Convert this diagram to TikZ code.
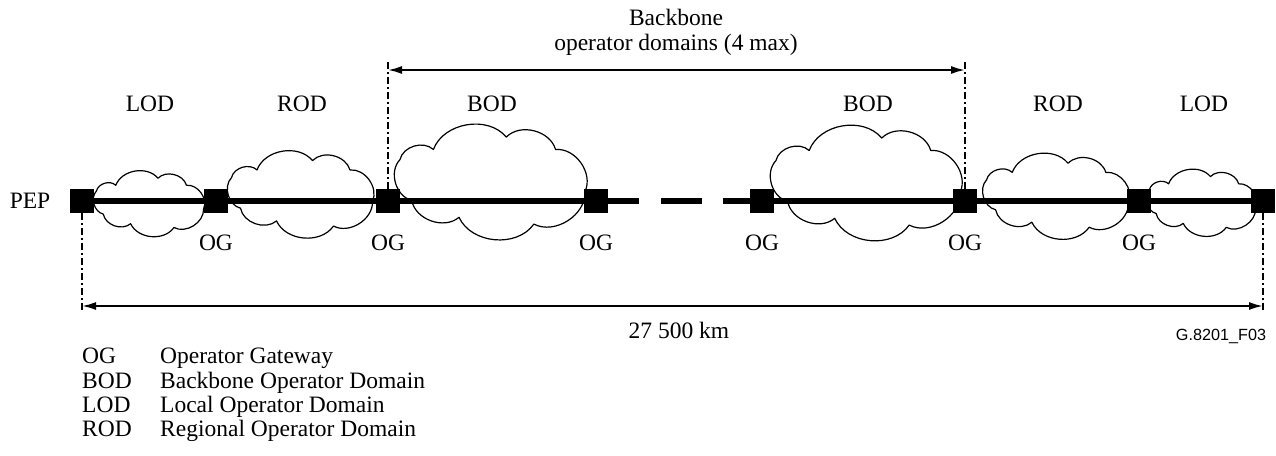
\documentclass[tikz,border=0pt]{standalone}
\usepackage{fontspec}
\setmainfont{Liberation Serif}
\newfontfamily\figsans{Liberation Sans}
\usetikzlibrary{arrows.meta}

% cloud between left, right, top and bottom edge
\newcommand{\domaincloud}[4]{%
  \draw[cloudline]
    ({#1+0.09*(#2-#1)},{#4-0.28*(#4-#3)}) to[bend left=60]
    ({#1+0.03*(#2-#1)},{#4-0.64*(#4-#3)}) to[bend left=60]
    ({#1+0.20*(#2-#1)},{#4-0.73*(#4-#3)}) to[bend left=60]
    ({#1+0.57*(#2-#1)},{#4-0.84*(#4-#3)}) to[bend left=60]
    ({#1+0.82*(#2-#1)},{#4-0.73*(#4-#3)}) to[bend left=60]
    ({#1+0.97*(#2-#1)},{#4-0.36*(#4-#3)}) to[bend left=60]
    ({#1+0.71*(#2-#1)},{#4-0.07*(#4-#3)}) to[bend left=60]
    ({#1+0.33*(#2-#1)},{#4-0.13*(#4-#3)}) to[bend left=60]
    ({#1+0.09*(#2-#1)},{#4-0.28*(#4-#3)}) -- cycle;}

\begin{document}
\begin{tikzpicture}[x=1pt, y=-1pt, >={Latex[length=14pt,width=8pt]},
  sqr/.style={rectangle, fill=black, minimum size=24pt, inner sep=0pt},
  lbl/.style={font=\fontsize{23.5}{25}\selectfont, inner sep=0pt},
  dashdot/.style={line width=1.3pt, dash pattern=on 7pt off 3pt on 2pt off 3pt},
  dim/.style={line width=2pt, <->},
  cloudline/.style={line width=1.2pt, line join=round},
  link/.style={line width=6pt}]

  \useasboundingbox (0,0) rectangle (1276,455);

  % Domains

  \domaincloud{93}{207}{168}{232}
  \domaincloud{227}{377}{147}{232}
  \domaincloud{394}{591}{119}{232}
  \domaincloud{770}{966}{120}{233}
  \domaincloud{982}{1133}{150}{233}
  \domaincloud{1146}{1259}{166}{232}

  \node[lbl] (lodL) at (150,104) {LOD};
  \node[lbl] (rodL) at (302,104) {ROD};
  \node[lbl] (bodL) at (492,104) {BOD};
  \node[lbl] (bodR) at (868,104) {BOD};
  \node[lbl] (rodR) at (1058,104) {ROD};
  \node[lbl] (lodR) at (1204,104) {LOD};

  % Gateways

  \node[sqr] (pepL) at (82,201) {};
  \node[sqr] (ogA) at (216,201) {};
  \node[sqr] (ogB) at (388,201) {};
  \node[sqr] (ogC) at (596,201) {};
  \node[sqr] (ogD) at (762,201) {};
  \node[sqr] (ogE) at (965,201) {};
  \node[sqr] (ogF) at (1139,201) {};
  \node[sqr] (pepR) at (1263,201) {};

  \node[lbl] (pep) at (30,201) {PEP};
  \node[lbl] (ogAl) at (216,243) {OG};
  \node[lbl] (ogBl) at (388,243) {OG};
  \node[lbl] (ogCl) at (596,243) {OG};
  \node[lbl] (ogDl) at (762,243) {OG};
  \node[lbl] (ogEl) at (965,243) {OG};
  \node[lbl] (ogFl) at (1139,243) {OG};

  % Path

  \coordinate (gapL) at (639,201);
  \coordinate (gapA) at (661,201);
  \coordinate (gapB) at (702,201);
  \coordinate (gapR) at (723,201);

  \draw[link] (pepL.center) -- (gapL);
  \draw[link] (gapA) -- (gapB);
  \draw[link] (gapR) -- (pepR.center);

  % Backbone span

  \coordinate (topL) at (388,62);
  \coordinate (topR) at (965,62);
  \coordinate (arrL) at (388,70);
  \coordinate (arrR) at (965,70);

  \draw[dashdot] (ogB.north) -- (topL);
  \draw[dashdot] (ogE.north) -- (topR);
  \draw[dim] (arrL) -- (arrR);

  \node[lbl, align=center] (bbtext) at (676,32) {Backbone\\operator domains (4 max)};

  % Total span

  \coordinate (botL) at (82,311);
  \coordinate (botR) at (1263,311);
  \coordinate (lenL) at (82,306);
  \coordinate (lenR) at (1263,306);

  \draw[dashdot] (pepL.south) -- (botL);
  \draw[dashdot] (pepR.south) -- (botR);
  \draw[dim] (lenL) -- (lenR);

  \node[lbl] (len) at (679,330) {27 500 km};
  \node[font=\figsans\fontsize{16.2}{18}\selectfont, inner sep=0pt] (fig) at (1221,336) {G.8201\_F03};

  % Legend

  \node[lbl, anchor=base west] (kOG) at (82,363) {OG};
  \node[lbl, anchor=base west] (dOG) at (160,363) {Operator Gateway};
  \node[lbl, anchor=base west] (kBOD) at (82,388) {BOD};
  \node[lbl, anchor=base west] (dBOD) at (160,388) {Backbone Operator Domain};
  \node[lbl, anchor=base west] (kLOD) at (82,412) {LOD};
  \node[lbl, anchor=base west] (dLOD) at (160,412) {Local Operator Domain};
  \node[lbl, anchor=base west] (kROD) at (82,436) {ROD};
  \node[lbl, anchor=base west] (dROD) at (160,436) {Regional Operator Domain};

\end{tikzpicture}
\end{document}
